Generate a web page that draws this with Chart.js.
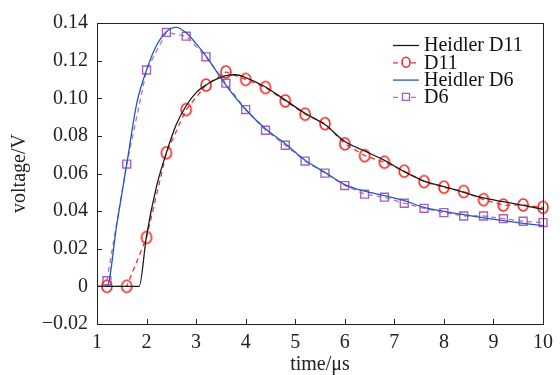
<!DOCTYPE html>
<html>
<head>
<meta charset="utf-8">
<script src="https://cdn.jsdelivr.net/npm/chart.js@4/dist/chart.umd.min.js"></script>
<style>
  body { margin: 0; background: #fff; }
  #box { width: 560px; height: 375px; }
</style>
</head>
<body>
<div id="box"><canvas id="grafico"></canvas></div>
<script>
// valores
const tempoHeidlerD11 = [1.0, 1.85, 2.0, 2.2, 2.4, 2.6, 2.8, 3.0, 3.2, 3.4, 3.6, 3.8, 4.0, 4.4, 4.8, 5.2, 5.6, 6.0, 6.4, 6.8, 7.2, 7.6, 8.0, 8.4, 8.8, 9.2, 9.6, 10.0];
const heidlerD11 = [0, 0, 0.027, 0.053, 0.071, 0.086, 0.096, 0.103, 0.107, 0.110, 0.112, 0.1125, 0.111, 0.106, 0.099, 0.092, 0.086, 0.077, 0.072, 0.067, 0.061, 0.056, 0.053, 0.050, 0.047, 0.045, 0.043, 0.041];

const tempoHeidlerD6 = [1.0, 1.2, 1.4, 1.6, 1.8, 2.0, 2.2, 2.4, 2.6, 2.8, 3.0, 3.2, 3.6, 4.0, 4.4, 4.8, 5.2, 5.6, 6.0, 6.4, 6.8, 7.2, 7.6, 8.0, 8.4, 8.8, 9.2, 9.6, 10.0];
const heidlerD6 = [0, 0, 0.033, 0.065, 0.097, 0.115, 0.128, 0.1354, 0.1377, 0.1348, 0.129, 0.1224, 0.107, 0.094, 0.0838, 0.0758, 0.067, 0.0606, 0.0541, 0.0506, 0.0483, 0.0456, 0.042, 0.0399, 0.0381, 0.0364, 0.0349, 0.0335, 0.0323];

const tempoMedido = [1.2, 1.6, 2.0, 2.4, 2.8, 3.2, 3.6, 4.0, 4.4, 4.8, 5.2, 5.6, 6.0, 6.4, 6.8, 7.2, 7.6, 8.0, 8.4, 8.8, 9.2, 9.6, 10.0];
const medidoD11 = [0, 0, 0.026, 0.071, 0.094, 0.107, 0.114, 0.110, 0.1057, 0.0986, 0.0915, 0.0865, 0.0758, 0.0695, 0.066, 0.0612, 0.0557, 0.0527, 0.0504, 0.0461, 0.0432, 0.0433, 0.042];
const medidoD6 = [0.003, 0.065, 0.115, 0.135, 0.133, 0.122, 0.108, 0.094, 0.083, 0.075, 0.0666, 0.0602, 0.0536, 0.049, 0.0474, 0.0442, 0.0415, 0.0392, 0.0374, 0.0374, 0.036, 0.0346, 0.0339];

const xTicks = [1, 2, 3, 4, 5, 6, 7, 8, 9, 10];
const yTicks = [-0.02, 0, 0.02, 0.04, 0.06, 0.08, 0.10, 0.12, 0.14];

const fonte = 'Liberation Serif, Times New Roman, serif';

function pares(xs, ys) {
    return xs.map((x, i) => ({ x: x, y: ys[i] }));
}

function rotuloY(v) {
    if (Math.abs(v) < 1e-9) return '0';
    if (v < 0) return '\u2212' + Math.abs(v).toFixed(2);
    return v.toFixed(2);
}

// marcador oval (os circulos da figura sao um pouco mais altos que largos)
function criarOval(cor) {
    const c = document.createElement('canvas');
    c.width = 14;
    c.height = 16;
    const g = c.getContext('2d');
    g.strokeStyle = cor;
    g.lineWidth = 1.6;
    g.beginPath();
    g.ellipse(7, 8, 5, 6, 0, 0, Math.PI * 2);
    g.stroke();
    return c;
}

// moldura, ticks para dentro e legenda
const moldura = {
    id: 'moldura',
    afterDraw(chart) {
        const ctx = chart.ctx;
        const a = chart.chartArea;
        const sx = chart.scales.x;
        const sy = chart.scales.y;
        ctx.save();
        ctx.strokeStyle = '#222';
        ctx.lineWidth = 1;
        ctx.strokeRect(Math.round(a.left) + 0.5, Math.round(a.top) + 0.5, Math.round(a.right - a.left), Math.round(a.bottom - a.top));
        ctx.beginPath();
        xTicks.forEach(t => {
            const px = Math.round(sx.getPixelForValue(t)) + 0.5;
            ctx.moveTo(px, a.bottom);
            ctx.lineTo(px, a.bottom - 5);
        });
        yTicks.forEach(t => {
            const py = Math.round(sy.getPixelForValue(t)) + 0.5;
            ctx.moveTo(a.left, py);
            ctx.lineTo(a.left + 5, py);
        });
        ctx.stroke();

        // legenda
        const itens = chart.data.datasets;
        const x0 = 393, x1 = 419, xt = 424;
        let y = 45;
        itens.forEach(ds => {
            ctx.strokeStyle = ds.borderColor;
            ctx.lineWidth = ds.borderWidth;
            ctx.setLineDash(ds.borderDash || []);
            ctx.beginPath();
            ctx.moveTo(x0, y + 0.5);
            ctx.lineTo(x1, y + 0.5);
            ctx.stroke();
            ctx.setLineDash([]);
            if (ds.pointRadius > 0) {
                ctx.strokeStyle = ds.pointBorderColor;
                ctx.fillStyle = '#fff';
                ctx.lineWidth = ds.pointBorderWidth;
                const cx = (x0 + x1) / 2;
                ctx.beginPath();
                if (ds.pointStyle === 'rect') {
                    ctx.rect(cx - 3.5, y - 3.5, 7, 7);
                } else {
                    ctx.ellipse(cx, y, 4, 5, 0, 0, Math.PI * 2);
                }
                ctx.fill();
                ctx.stroke();
            }
            ctx.fillStyle = '#111';
            ctx.font = '20px ' + fonte;
            ctx.textBaseline = 'middle';
            ctx.textAlign = 'left';
            ctx.fillText(ds.label, xt, y + 1);
            y += 17.3;
        });
        ctx.restore();
    }
};

const grafico = new Chart(document.getElementById('grafico'), {
    type: 'line',
    data: {
        datasets: [
            {
                label: 'Heidler D11',
                data: pares(tempoHeidlerD11, heidlerD11),
                borderColor: '#1a1a1a',
                borderWidth: 1.3,
                pointRadius: 0,
                cubicInterpolationMode: 'monotone',
                clip: false
            },
            {
                label: 'D11',
                data: pares(tempoMedido, medidoD11),
                borderColor: '#f03030',
                borderWidth: 1.3,
                borderDash: [5, 4],
                pointStyle: criarOval('#f02424'),
                pointRadius: 6,
                pointBorderColor: '#f02424',
                pointBackgroundColor: 'rgba(255,255,255,0)',
                pointBorderWidth: 1.6,
                clip: false
            },
            {
                label: 'Heidler D6',
                data: pares(tempoHeidlerD6, heidlerD6),
                borderColor: '#2458b8',
                borderWidth: 1.3,
                pointRadius: 0,
                cubicInterpolationMode: 'monotone',
                clip: false
            },
            {
                label: 'D6',
                data: pares(tempoMedido, medidoD6),
                borderColor: '#b070c4',
                borderWidth: 1.3,
                borderDash: [5, 4],
                pointStyle: 'rect',
                pointRadius: 5.6,
                pointBorderColor: '#a860bc',
                pointBackgroundColor: 'rgba(255,255,255,0)',
                pointBorderWidth: 1.4,
                clip: false
            }
        ]
    },
    options: {
        responsive: true,
        maintainAspectRatio: false,
        animation: false,
        layout: { padding: { top: 23, right: 12, left: 0, bottom: 0 } },
        plugins: {
            legend: { display: false },
            tooltip: { enabled: false }
        },
        scales: {
            x: {
                type: 'linear',
                min: 1,
                max: 10,
                afterBuildTicks: s => { s.ticks = xTicks.map(v => ({ value: v })); },
                afterFit: s => { s.height = 51; },
                grid: { display: false, drawTicks: false },
                border: { display: false },
                ticks: {
                    padding: 7,
                    color: '#222',
                    font: { family: fonte, size: 20, lineHeight: 1.2 },
                    maxRotation: 0,
                    callback: v => String(v)
                },
                title: {
                    display: true,
                    text: 'time/\u03bcs',
                    color: '#222',
                    font: { family: fonte, size: 20, lineHeight: 1 },
                    padding: { top: 0, bottom: 0 }
                }
            },
            y: {
                min: -0.02,
                max: 0.14,
                afterBuildTicks: s => { s.ticks = yTicks.map(v => ({ value: v })); },
                afterFit: s => { s.width = 97; },
                grid: { display: false, drawTicks: false },
                border: { display: false },
                ticks: {
                    padding: 9,
                    color: '#222',
                    font: { family: fonte, size: 20 },
                    callback: v => rotuloY(v)
                },
                title: {
                    display: true,
                    text: 'voltage/V',
                    color: '#222',
                    font: { family: fonte, size: 20, lineHeight: 1 },
                    padding: { top: 10, bottom: 0 }
                }
            }
        }
    },
    plugins: [moldura]
});
</script>
</body>
</html>
